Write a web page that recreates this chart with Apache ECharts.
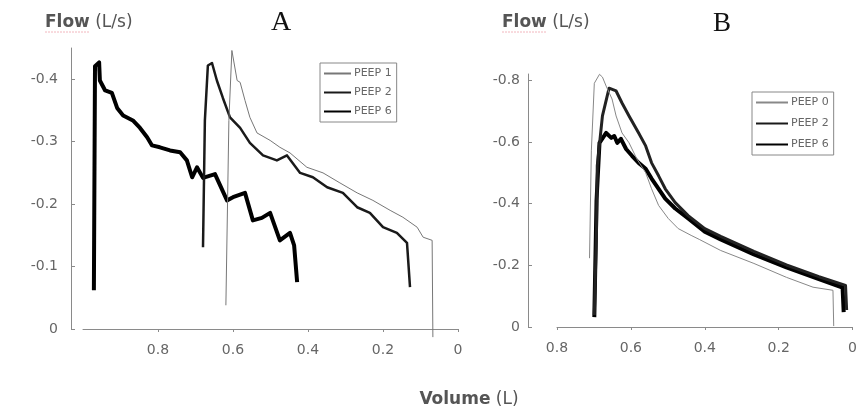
<!DOCTYPE html>
<html>
<head>
<meta charset="utf-8">
<script src="https://cdn.jsdelivr.net/npm/echarts@6/dist/echarts.min.js"></script>
<style>
  html, body { margin: 0; padding: 0; background: #fff; }
  #chart { width: 860px; height: 414px; }
</style>
</head>
<body>
<div id="chart"></div>
<script>
// panel A : [volume (L), flow (L/s)]
const peep1A = [
  [0.619, -0.038], [0.611, -0.334], [0.603, -0.446], [0.589, -0.398], [0.581, -0.395],
  [0.568, -0.366], [0.555, -0.339], [0.536, -0.314], [0.501, -0.302], [0.475, -0.291],
  [0.448, -0.282], [0.403, -0.259], [0.360, -0.250], [0.315, -0.234], [0.269, -0.218],
  [0.227, -0.206], [0.181, -0.190], [0.147, -0.179], [0.109, -0.163], [0.093, -0.147],
  [0.069, -0.142], [0.067, 0.013]
]
const peep2A = [
  [0.680, -0.131], [0.675, -0.334], [0.667, -0.422], [0.656, -0.426], [0.643, -0.398],
  [0.627, -0.370], [0.608, -0.339], [0.581, -0.322], [0.555, -0.298], [0.520, -0.278],
  [0.483, -0.270], [0.456, -0.278], [0.421, -0.250], [0.387, -0.243], [0.349, -0.227],
  [0.307, -0.218], [0.269, -0.195], [0.235, -0.186], [0.200, -0.163], [0.163, -0.154],
  [0.136, -0.138], [0.128, -0.067]
]
const peep6A = [
  [0.971, -0.062], [0.968, -0.421], [0.957, -0.427], [0.955, -0.398], [0.941, -0.382],
  [0.923, -0.378], [0.909, -0.354], [0.893, -0.342], [0.867, -0.334], [0.848, -0.322],
  [0.829, -0.307], [0.816, -0.294], [0.795, -0.291], [0.768, -0.286], [0.741, -0.283],
  [0.723, -0.270], [0.709, -0.243], [0.696, -0.259], [0.680, -0.242], [0.648, -0.248],
  [0.616, -0.206], [0.600, -0.211], [0.568, -0.218], [0.547, -0.174], [0.523, -0.178],
  [0.501, -0.186], [0.475, -0.142], [0.448, -0.154], [0.437, -0.134], [0.429, -0.075]
]
// panel B
const peep0B = [
  [0.712, -0.223], [0.707, -0.571], [0.699, -0.790], [0.685, -0.819], [0.677, -0.810],
  [0.667, -0.781], [0.651, -0.739], [0.640, -0.684], [0.624, -0.629], [0.605, -0.597],
  [0.584, -0.545], [0.560, -0.500], [0.544, -0.448], [0.525, -0.394], [0.499, -0.352],
  [0.472, -0.319], [0.437, -0.297], [0.415, -0.284], [0.357, -0.248], [0.267, -0.206],
  [0.179, -0.161], [0.107, -0.129], [0.053, -0.119], [0.051, -0.003]
]
const peep2B = [
  [0.699, -0.039], [0.693, -0.313], [0.691, -0.523], [0.677, -0.684], [0.659, -0.774],
  [0.640, -0.765], [0.624, -0.726], [0.605, -0.684], [0.579, -0.629], [0.560, -0.587],
  [0.544, -0.532], [0.525, -0.490], [0.507, -0.448], [0.480, -0.403], [0.445, -0.361],
  [0.400, -0.319], [0.357, -0.294], [0.267, -0.245], [0.179, -0.201], [0.091, -0.163],
  [0.019, -0.135], [0.016, -0.055]
]
const peep6B = [
  [0.699, -0.032], [0.693, -0.410], [0.685, -0.597], [0.667, -0.629], [0.653, -0.613],
  [0.645, -0.619], [0.637, -0.597], [0.627, -0.610], [0.613, -0.577], [0.597, -0.555],
  [0.579, -0.532], [0.560, -0.513], [0.544, -0.481], [0.525, -0.448], [0.507, -0.416],
  [0.480, -0.384], [0.445, -0.352], [0.400, -0.309], [0.357, -0.284], [0.267, -0.235],
  [0.179, -0.193], [0.091, -0.155], [0.027, -0.128], [0.024, -0.048]
]

const legendA = ['PEEP 1', 'PEEP 2', 'PEEP 6']
const legendB = ['PEEP 0', 'PEEP 2', 'PEEP 6']
const xTicksA = [0, 0.2, 0.4, 0.6, 0.8]
const yTicksA = [-0.4, -0.3, -0.2, -0.1, 0]
const xTicksB = [0, 0.2, 0.4, 0.6, 0.8]
const yTicksB = [-0.8, -0.6, -0.4, -0.2, 0]

const font = 'DejaVu Sans'
const axisGray = '#8a8a8a'
const labelGray = '#666'

const chart = echarts.init(document.getElementById('chart'))

const makeX = (grid, max, ticks) => ({
  type: 'value', gridIndex: grid, min: 0, max: max, inverse: true,
  axisLine: { show: true, onZero: false, lineStyle: { color: axisGray, width: 1 } },
  axisTick: { show: true, customValues: ticks, length: 3, lineStyle: { color: axisGray } },
  axisLabel: { customValues: ticks, margin: 14, fontSize: 14, color: labelGray, fontFamily: font },
  splitLine: { show: false }
})
const makeY = (grid, min, ticks, offset, margin) => ({
  type: 'value', gridIndex: grid, min: min, max: 0, inverse: true, offset: offset,
  position: 'left',
  axisLine: { show: true, onZero: false, lineStyle: { color: axisGray, width: 1 } },
  axisTick: { show: true, inside: true, customValues: ticks, length: 4, lineStyle: { color: axisGray } },
  axisLabel: { customValues: ticks, margin: margin, fontSize: 14, color: labelGray, fontFamily: font },
  splitLine: { show: false }
})
const line = (name, data, idx, width, color) => ({
  name: name, type: 'line', data: data,
  xAxisIndex: idx, yAxisIndex: idx,
  symbol: 'none', clip: false, animation: false,
  lineStyle: { width: width, color: color, join: 'round' },
  itemStyle: { color: color }
})
const legend = (names, left, top, itemWidth, itemGap) => ({
  data: names, orient: 'vertical', left: left, top: top,
  itemWidth: itemWidth, itemHeight: 10, itemGap: itemGap,
  padding: [5, 5, 5, 3], borderColor: '#888', borderWidth: 1,
  selectedMode: false,
  itemStyle: { color: 'rgba(0,0,0,0)', borderColor: 'rgba(0,0,0,0)', borderWidth: 0 },
  textStyle: { fontSize: 11, color: labelGray, fontFamily: font, padding: [0, 0, 0, -2] }
})
const flowText = (x) => ({
  type: 'text', x: x, y: 23,
  style: {
    text: '{b|Flow} (L/s)', fontSize: 17, fontFamily: font, fill: '#555',
    verticalAlign: 'middle',
    rich: { b: { fontWeight: 'bold', fontSize: 17, fontFamily: font, color: '#333' } }
  }
})

const option = {
  backgroundColor: '#fff',
  animation: false,
  grid: [
    { left: 83, top: 48, width: 375, height: 281 },
    { left: 557, top: 74, width: 300, height: 253 }
  ],
  xAxis: [makeX(0, 1, xTicksA), makeX(1, 0.8, xTicksB)],
  yAxis: [makeY(0, -0.45, yTicksA, 12, 13), makeY(1, -0.82, yTicksB, 29, 8)],
  legend: [
    legend(legendA, 320, 63, 27, 8),
    legend(legendB, 752, 92, 32, 10)
  ],
  series: [
    line('PEEP 6', peep6A, 0, 4, '#000'),
    line('PEEP 2', peep2A, 0, 2.5, '#1a1a1a'),
    line('PEEP 1', peep1A, 0, 1, '#777'),
    line('PEEP 6', peep6B, 1, 4, '#000'),
    line('PEEP 2', peep2B, 1, 3, '#222'),
    line('PEEP 0', peep0B, 1, 1, '#888')
  ],
  graphic: [
    flowText(45),
    flowText(502),
    { type: 'line', shape: { x1: 45, y1: 32, x2: 90, y2: 32 }, style: { stroke: '#f2b6bd', lineWidth: 1, lineDash: [2, 1] } },
    { type: 'line', shape: { x1: 502, y1: 32, x2: 547, y2: 32 }, style: { stroke: '#f2b6bd', lineWidth: 1, lineDash: [2, 1] } },
    { type: 'text', x: 281, y: 23, style: { text: 'A', font: '28px "Liberation Serif"', fill: '#111', align: 'center', verticalAlign: 'middle' } },
    { type: 'text', x: 722, y: 24, style: { text: 'B', font: '27px "Liberation Serif"', fill: '#111', align: 'center', verticalAlign: 'middle' } },
    {
      type: 'text', x: 469, y: 400,
      style: {
        text: '{b|Volume} (L)', fontSize: 17, fontFamily: font, fill: '#555',
        align: 'center', verticalAlign: 'middle',
        rich: { b: { fontWeight: 'bold', fontSize: 17, fontFamily: font, color: '#333' } }
      }
    }
  ]
}
chart.setOption(option)
</script>
</body>
</html>
